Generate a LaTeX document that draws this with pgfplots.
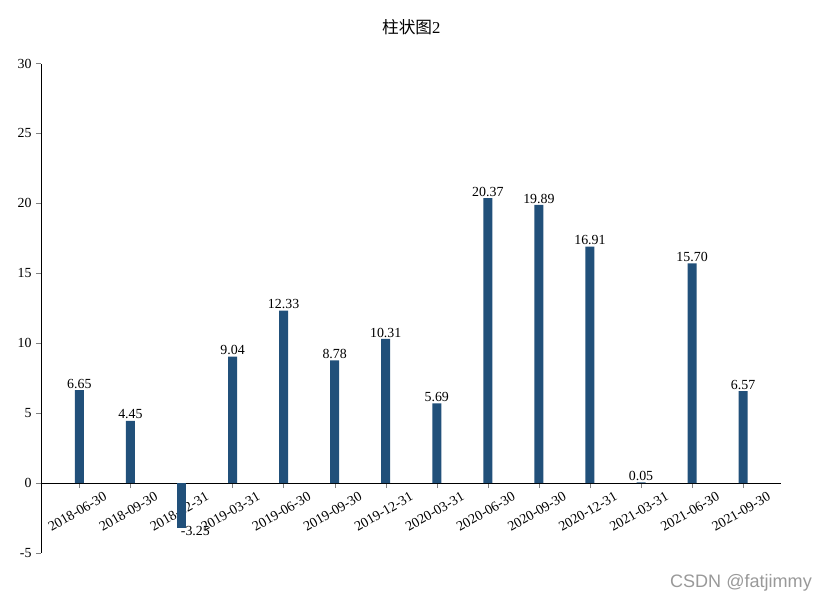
\documentclass[border=0pt]{standalone}
\usepackage{fontspec}
\setmainfont{Liberation Serif}
\newfontfamily\cjk{Noto Sans CJK SC}
\newfontfamily\wm{Liberation Sans}
\usepackage{pgfplots}
\pgfplotsset{compat=1.18}
\definecolor{barblue}{RGB}{33,80,122}
\begin{document}
\begin{tikzpicture}
\useasboundingbox (0,0) rectangle (597.6pt,433.44pt);
\begin{axis}[
  at={(29.8pt,35.3pt)}, anchor=south west,
  scale only axis, width=532.6pt, height=352.4pt,
  xmin=-0.744, xmax=13.744, ymin=-5, ymax=30,
  axis y line=left, axis x line=middle,
  x axis line style={-}, y axis line style={-},
  hide obscured x ticks=false, hide obscured y ticks=false,
  tick align=outside, major tick length=3.6pt,
  xtick={0,...,13},
  xticklabels={2018-06-30,2018-09-30,2018-12-31,2019-03-31,2019-06-30,2019-09-30,2019-12-31,2020-03-31,2020-06-30,2020-09-30,2020-12-31,2021-03-31,2021-06-30,2021-09-30},
  ytick={-5,0,5,10,15,20,25,30},
  /pgf/number format/assume math mode=true,
  tick label style={font=\fontsize{10}{12}\selectfont},
  xticklabel style={yshift=-17pt, xshift=-1.5pt, rotate=30, anchor=center},
  title={{\cjk 柱状图}2},
  title style={at={(0.5,1)}, anchor=center, yshift=20pt, font=\fontsize{12}{14}\selectfont},
  every node near coord/.append style={font=\fontsize{10}{12}\selectfont, inner sep=1pt},
  nodes near coords={\pgfmathprintnumber[fixed,precision=2,fixed zerofill]{\pgfplotspointmeta}},
]
\addplot[ybar, bar shift=0pt, bar width=6.5pt, fill=barblue, draw=none,
  nodes near coords align={vertical}] coordinates {
  (0,6.65) (1,4.45) (3,9.04) (4,12.33) (5,8.78) (6,10.31) (7,5.69)
  (8,20.37) (9,19.89) (10,16.91) (11,0.05) (12,15.70) (13,6.57)};
\addplot[ybar, bar shift=0pt, bar width=6.5pt, fill=barblue, draw=none,
  every node near coord/.append style={anchor=north, xshift=10pt, yshift=3pt}] coordinates {
  (2,-3.25)};
\end{axis}
\node[font=\wm\fontsize{13}{15}\selectfont, text=black!40] at (533.5pt,13.7pt) {CSDN @fatjimmy};
\end{tikzpicture}
\end{document}
